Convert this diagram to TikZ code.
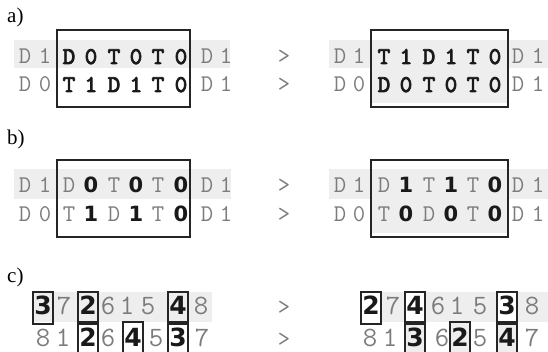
\documentclass[tikz,border=0pt]{standalone}
\usepackage{fontspec}
\setmainfont{Liberation Serif}
\newfontfamily\digitfont{DejaVu Sans}
\newfontfamily\ttheavy{lmmono10-regular.otf}[FakeBold=3.2]
\usetikzlibrary{positioning}
\definecolor{txtgray}{HTML}{7C7C7C}
\definecolor{bandgray}{HTML}{EEEEEE}
\definecolor{frameclr}{HTML}{252525}
\tikzset{
  chr/.style   ={inner sep=0pt,anchor=base,text=txtgray,
                 font=\ttfamily\fontsize{24}{24}\selectfont},
  chrb/.style  ={chr,text=black!90,font=\ttheavy\fontsize{24}{24}\selectfont},
  digb/.style  ={chr,text=black!90,font=\digitfont\bfseries\fontsize{21}{21}\selectfont},
  num/.style   ={chr,font=\ttfamily\fontsize{28}{28}\selectfont},
  numb/.style  ={chr,text=black!90,font=\digitfont\bfseries\fontsize{25}{25}\selectfont},
  lbl/.style   ={inner sep=0pt,anchor=base west,font=\fontsize{21}{21}\selectfont},
  band/.style  ={fill=bandgray,draw=none},
  frame/.style ={draw=frameclr,line width=1.4pt}
}

\begin{document}
\begin{tikzpicture}[x=1pt,y=-1pt]
  \useasboundingbox (0,0) rectangle (548,352);
  \clip (0,0) rectangle (548,352);

  % Backgrounds
  \fill[band] (14,40) rectangle (230,68);
  \fill[band] (329,40) rectangle (548,68);
  \fill[band] (371,68) rectangle (508,103);
  \fill[band] (14,169) rectangle (231,199);
  \fill[band] (329,169) rectangle (548,199);
  \fill[band] (371,199) rectangle (508,233);
  \fill[band] (33,292) rectangle (212,322);
  \fill[band] (361,292) rectangle (548,322);
  \foreach \bx in {361,405,497}
    \fill[white] (\bx,292) rectangle ({\bx+20},322);
  \foreach \bx in {405,450,497}
    \fill[band] (\bx,322) rectangle ({\bx+20},356);

  % Labels
  \node[lbl] (la) at (7,23)  {a)};
  \node[lbl] (lb) at (7,145) {b)};
  \node[lbl] (lc) at (7,283) {c)};

  % a)
  \foreach \st/\ch/\px [count=\k] in {chr/D/25,chr/1/45,chrb/D/69,chrb/0/91,chrb/T/114,
      chrb/0/136,chrb/T/158,chrb/0/181,chr/D/207,chr/1/226}
    \node[\st] (aL1-\k) at (\px,64) {\ch};
  \foreach \st/\ch/\px [count=\k] in {chr/D/25,chr/0/45,chrb/T/69,chrb/1/91,chrb/D/114,
      chrb/1/136,chrb/T/158,chrb/0/181,chr/D/207,chr/1/226}
    \node[\st] (aL2-\k) at (\px,92) {\ch};
  \foreach \st/\ch/\px [count=\k] in {chr/D/340,chr/1/359,chrb/T/384,chrb/1/406,chrb/D/429,
      chrb/1/451,chrb/T/473,chrb/0/495,chr/D/518,chr/1/538}
    \node[\st] (aR1-\k) at (\px,64) {\ch};
  \foreach \st/\ch/\px [count=\k] in {chr/D/340,chr/0/359,chrb/D/384,chrb/0/406,chrb/T/429,
      chrb/0/451,chrb/T/473,chrb/0/495,chr/D/518,chr/1/538}
    \node[\st] (aR2-\k) at (\px,92) {\ch};

  % b)
  \foreach \st/\ch/\px [count=\k] in {chr/D/25,chr/1/45,chr/D/69,digb/0/91,chr/T/114,
      digb/0/136,chr/T/158,digb/0/181,chr/D/207,chr/1/226}
    \node[\st] (bL1-\k) at (\px,193) {\ch};
  \foreach \st/\ch/\px [count=\k] in {chr/D/25,chr/0/45,chr/T/69,digb/1/91,chr/D/114,
      digb/1/136,chr/T/158,digb/0/181,chr/D/207,chr/1/226}
    \node[\st] (bL2-\k) at (\px,222) {\ch};
  \foreach \st/\ch/\px [count=\k] in {chr/D/340,chr/1/359,chr/D/384,digb/1/406,chr/T/429,
      digb/1/451,chr/T/473,digb/0/495,chr/D/518,chr/1/538}
    \node[\st] (bR1-\k) at (\px,193) {\ch};
  \foreach \st/\ch/\px [count=\k] in {chr/D/340,chr/0/359,chr/T/384,digb/0/406,chr/D/429,
      digb/0/451,chr/T/473,digb/0/495,chr/D/518,chr/1/538}
    \node[\st] (bR2-\k) at (\px,222) {\ch};

  % c)
  \foreach \st/\ch/\px [count=\k] in {numb/3/43,num/7/64,numb/2/88,num/6/108,num/1/127,
      num/5/148,numb/4/178,num/8/201}
    \node[\st] (cL1-\k) at (\px,314) {\ch};
  \foreach \st/\ch/\px [count=\k] in {num/8/43,num/1/63,numb/2/88,num/6/108,numb/4/133,
      num/5/156,numb/3/178,num/7/202}
    \node[\st] (cL2-\k) at (\px,346) {\ch};
  \foreach \st/\ch/\px [count=\k] in {numb/2/371,num/7/393,numb/4/415,num/6/438,num/1/457,
      num/5/480,numb/3/507,num/8/532}
    \node[\st] (cR1-\k) at (\px,314) {\ch};
  \foreach \st/\ch/\px [count=\k] in {num/8/370,num/1/390,numb/3/415,num/6/442,numb/2/460,
      num/5/480,numb/4/507,num/7/532}
    \node[\st] (cR2-\k) at (\px,346) {\ch};

  % Swap signs
  \foreach \gy [count=\k] in {64,92,193,222,314,346}
    \node[chr] (gt-\k) at (284,\gy) {>};

  % Frames
  \draw[frame] (57,30) rectangle (190,107);
  \draw[frame] (371,30) rectangle (508,107);
  \draw[frame] (57,160) rectangle (190,237);
  \draw[frame] (371,160) rectangle (508,237);
  \foreach \bx/\by in {43/292,88/292,178/292,88/322,133/322,178/322,
      371/292,415/292,507/292,415/322,460/322,507/322}
    \draw[frame] ({\bx-10},\by) rectangle ({\bx+10},{\by+32});
\end{tikzpicture}
\end{document}
